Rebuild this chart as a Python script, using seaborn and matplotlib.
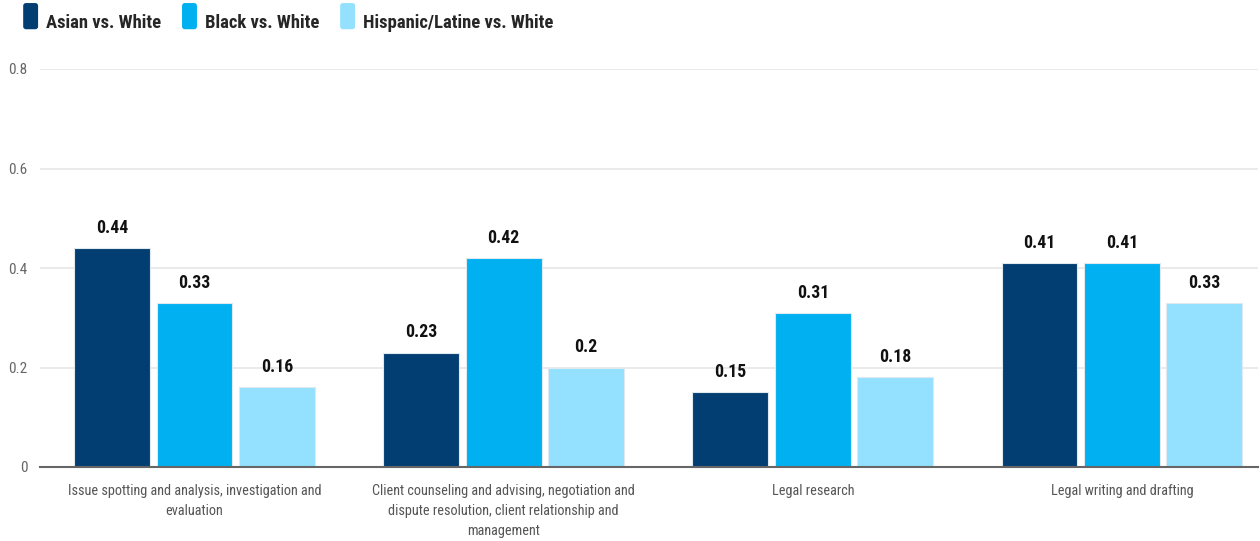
import matplotlib
matplotlib.use("Agg")
import matplotlib.pyplot as plt
import seaborn as sns
import pandas as pd
from matplotlib import font_manager as fm
from matplotlib.patches import FancyBboxPatch, Patch
from matplotlib.legend_handler import HandlerPatch

categories = [
    "Issue spotting and analysis, investigation and\nevaluation",
    "Client counseling and advising, negotiation and\ndispute resolution, client relationship and\nmanagement",
    "Legal research",
    "Legal writing and drafting",
]
series_names = ["Asian vs. White", "Black vs. White", "Hispanic/Latine vs. White"]
asian = [0.44, 0.23, 0.15, 0.41]
black = [0.33, 0.42, 0.31, 0.41]
hispanic = [0.16, 0.2, 0.18, 0.33]
colors = ["#033E73", "#00B0F0", "#93E1FF"]

rows = []
for name, vals in zip(series_names, [asian, black, hispanic]):
    for c, v in zip(categories, vals):
        rows.append({"category": c, "series": name, "value": v})
df = pd.DataFrame(rows)

sns.set_theme(style="white")

installed = {f.name for f in fm.fontManager.ttflist}
narrow_prefs = ["Liberation Sans Narrow", "Arial Narrow", "Roboto Condensed",
                "PT Sans Narrow", "Archivo Narrow", "Open Sans Condensed",
                "Encode Sans Condensed", "Fira Sans Condensed", "IBM Plex Sans Condensed"]
narrow = next((n for n in narrow_prefs if n in installed), None)
if narrow:
    FONT = [narrow, "Liberation Sans", "DejaVu Sans"]
    scale = 1.0
else:
    FONT = ["Liberation Sans", "DejaVu Sans"]
    scale = 0.83
plt.rcParams["font.family"] = FONT

fig = plt.figure(figsize=(12.6, 5.41), dpi=100)
ax = fig.add_axes([40 / 1260, 74 / 541, 1218 / 1260, 398 / 541])

sns.barplot(data=df, x="category", y="value", hue="series", order=categories,
            hue_order=series_names, palette=colors, width=0.8, gap=0.08,
            saturation=1, ax=ax, legend=False, edgecolor="#dfe9f0", linewidth=0.8)

ax.set_xlim(-0.5, 3.44)
ax.set_ylim(0, 0.8)
ax.set_yticks([0, 0.2, 0.4, 0.6, 0.8])
ax.set_yticklabels(["0", "0.2", "0.4", "0.6", "0.8"])
ax.yaxis.grid(True, color="#e6e6e6", linewidth=1.2)
ax.set_axisbelow(True)
for s in ["top", "right", "left"]:
    ax.spines[s].set_visible(False)
ax.spines["bottom"].set_color("#666666")
ax.spines["bottom"].set_linewidth(1.5)
ax.tick_params(axis="y", length=0, pad=9, labelsize=11 * scale, labelcolor="#666666")
ax.tick_params(axis="x", length=0, pad=12, labelsize=10.3 * scale, labelcolor="#555555")
ax.set_xlabel("")
ax.set_ylabel("")
for lab in ax.get_xticklabels():
    lab.set_linespacing(1.55)

for cont in ax.containers:
    for bar in cont:
        h = bar.get_height()
        ax.annotate(f"{h:g}", (bar.get_x() + bar.get_width() / 2, h),
                    xytext=(0, 8), textcoords="offset points",
                    ha="center", va="bottom", fontsize=12.8 * scale, fontweight="bold",
                    color="#111111")

class RoundHandler(HandlerPatch):
    def create_artists(self, legend, orig_handle, xdescent, ydescent, width, height, fontsize, trans):
        p = FancyBboxPatch((xdescent + 1, ydescent - 3), width - 2, height + 6,
                           boxstyle="round,pad=0,rounding_size=2",
                           facecolor=orig_handle.get_facecolor(), edgecolor="none",
                           transform=trans)
        return [p]

handles = [Patch(facecolor=c) for c in colors]
leg = fig.legend(handles, series_names, loc="upper left", bbox_to_anchor=(0.004, 1.008),
                 ncol=3, frameon=False, handler_map={Patch: RoundHandler()},
                 handlelength=0.95, handleheight=1.1, handletextpad=0.35,
                 columnspacing=1.05,
                 prop={"family": FONT, "weight": "bold", "size": 13.4 * scale})

fig.savefig("out.png", dpi=100)
